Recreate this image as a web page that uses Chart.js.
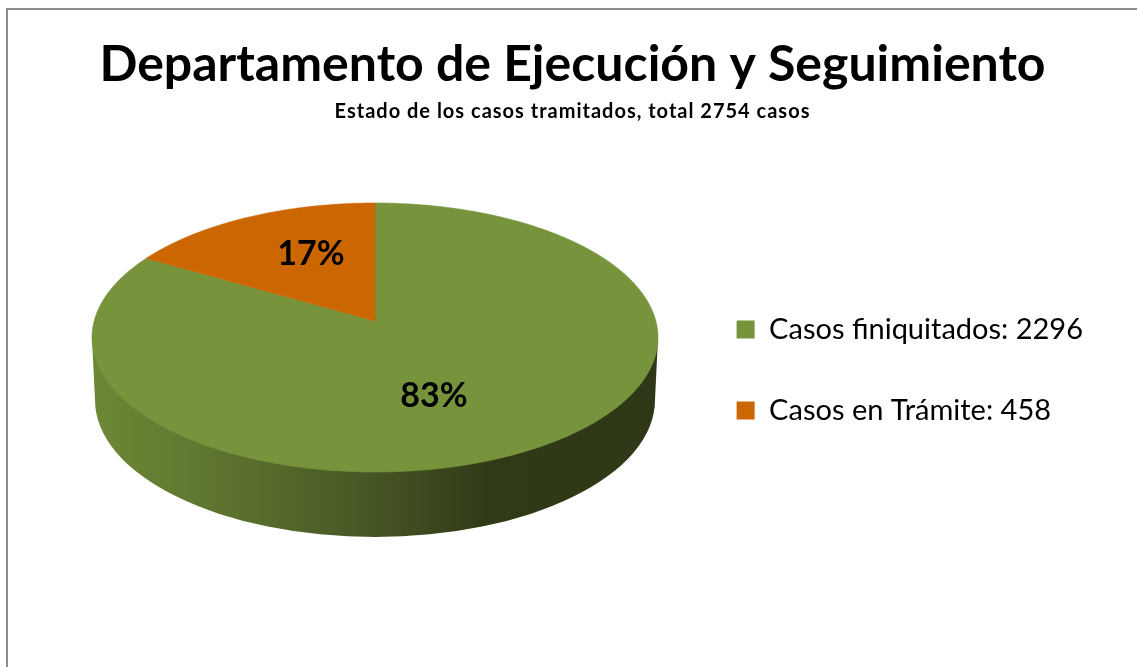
<!DOCTYPE html>
<html>
<head>
<meta charset="utf-8">
<title>Departamento de Ejecución y Seguimiento</title>
<script src="https://cdn.jsdelivr.net/npm/chart.js@4"></script>
<style>
    html, body { margin: 0; padding: 0; background: #fff; overflow: hidden; }
    #wrap { position: relative; width: 1137px; height: 667px; }
    #marco { position: absolute; left: 6px; top: 8px; right: -4px; bottom: -4px; border: 2px solid #8c8c8c; }
    canvas { position: absolute; left: 0; top: 0; }
</style>
</head>
<body>
<div id="wrap">
    <div id="marco"></div>
    <canvas id="chartCasos" width="1137" height="667"></canvas>
</div>
<script>
const categorias = ['Casos finiquitados', 'Casos en Trámite'];
const valores = [2296, 458];
const colores = ['#77933C', '#CC6600'];
const subtitulo = 'Estado de los casos tramitados, total 2754 casos';

const fuente = "Lato, 'Open Sans', sans-serif";

// Geometria del pastel 3D: cara superior con perspectiva (el centro queda por encima del centro de la elipse)
const pie = { cx: 375, cy: 337.5, rx: 283, ry: 134.5, b: 16.5, k: 0.1227 };
const base = { cy: 400, rx: 280, ry: 137 };

function proyectar(angulo, r) {
    let u = Math.cos(angulo) * r, v = -Math.sin(angulo) * r;
    let w = 1 + pie.k * v;
    let s = pie.rx * Math.sqrt(1 - pie.k * pie.k);
    return { x: pie.cx + s * u / w, y: pie.cy - (pie.ry * v + pie.b) / w };
}

const pastel3d = {
    id: 'pastel3d',
    beforeDatasetsDraw(chart) {
        const ctx = chart.ctx;
        const arcos = chart.getDatasetMeta(0).data;

        // pared lateral
        let grad = ctx.createLinearGradient(95, 0, 655, 0);
        grad.addColorStop(0, '#6C8836');
        grad.addColorStop(0.2, '#5F762F');
        grad.addColorStop(0.5, '#465524');
        grad.addColorStop(0.7, '#313A17');
        grad.addColorStop(1, '#2F3816');
        ctx.save();
        ctx.beginPath();
        ctx.moveTo(pie.cx - pie.rx, pie.cy);
        ctx.lineTo(pie.cx - base.rx, base.cy);
        ctx.ellipse(pie.cx, base.cy, base.rx, base.ry, 0, Math.PI, 0, true);
        ctx.lineTo(pie.cx + pie.rx, pie.cy);
        ctx.closePath();
        ctx.fillStyle = grad;
        ctx.fill();

        // cara superior, con los angulos que calcula Chart.js
        arcos.forEach((arco, i) => {
            let ini = arco.startAngle, fin = arco.endAngle;
            let pasos = Math.ceil((fin - ini) / 0.01);
            let c = proyectar(0, 0);
            ctx.beginPath();
            ctx.moveTo(c.x, c.y);
            for (let p = 0; p <= pasos; p++) {
                let q = proyectar(ini + (fin - ini) * p / pasos, 1);
                ctx.lineTo(q.x, q.y);
            }
            ctx.closePath();
            ctx.fillStyle = colores[i];
            ctx.strokeStyle = colores[i];
            ctx.lineWidth = 0.6;
            ctx.fill();
            ctx.stroke();
        });

        // porcentajes
        const total = valores.reduce((a, b) => a + b, 0);
        const posEtiqueta = [[434, 396], [311, 254]];
        ctx.fillStyle = '#000';
        ctx.font = "bold 34px " + fuente;
        ctx.textAlign = 'center';
        ctx.textBaseline = 'middle';
        valores.forEach((v, i) => {
            ctx.fillText(Math.round(v / total * 100) + '%', posEtiqueta[i][0], posEtiqueta[i][1]);
        });
        ctx.restore();
        return false; // el dibujo normal del arco no se usa
    },
    // el subtitulo del original va con las letras separadas
    afterLayout(chart) {
        const caja = chart.boxes.find(b => b.options && b.options.text === subtitulo);
        if (!caja || caja._conEspacio) return;
        const dibujar = caja.draw.bind(caja);
        caja.draw = function () {
            chart.ctx.save();
            chart.ctx.letterSpacing = '1px';
            dibujar();
            chart.ctx.restore();
        };
        caja._conEspacio = true;
    }
};

new Chart(document.getElementById('chartCasos').getContext('2d'), {
    type: 'pie',
    data: {
        labels: categorias.map((c, i) => c + ': ' + valores[i]),
        datasets: [{ data: valores, backgroundColor: colores, borderWidth: 0 }]
    },
    options: {
        responsive: false,
        animation: false,
        layout: { padding: { top: 35, right: 44, bottom: 61, left: 52 } },
        plugins: {
            title: {
                display: true,
                text: 'Departamento de Ejecución y Seguimiento',
                color: '#000',
                font: { family: fuente, size: 50, weight: 'bold' },
                padding: { top: 0, bottom: 5 }
            },
            subtitle: {
                display: true,
                text: subtitulo,
                color: '#000',
                font: { family: fuente, size: 20, weight: 'bold' },
                padding: { top: 0, bottom: 10 }
            },
            legend: {
                position: 'right',
                fullSize: false,
                labels: {
                    boxWidth: 18,
                    boxHeight: 18,
                    color: '#000',
                    padding: 52,
                    font: { family: fuente, size: 29 }
                }
            },
            tooltip: { enabled: false }
        }
    },
    plugins: [pastel3d]
});
</script>
</body>
</html>
